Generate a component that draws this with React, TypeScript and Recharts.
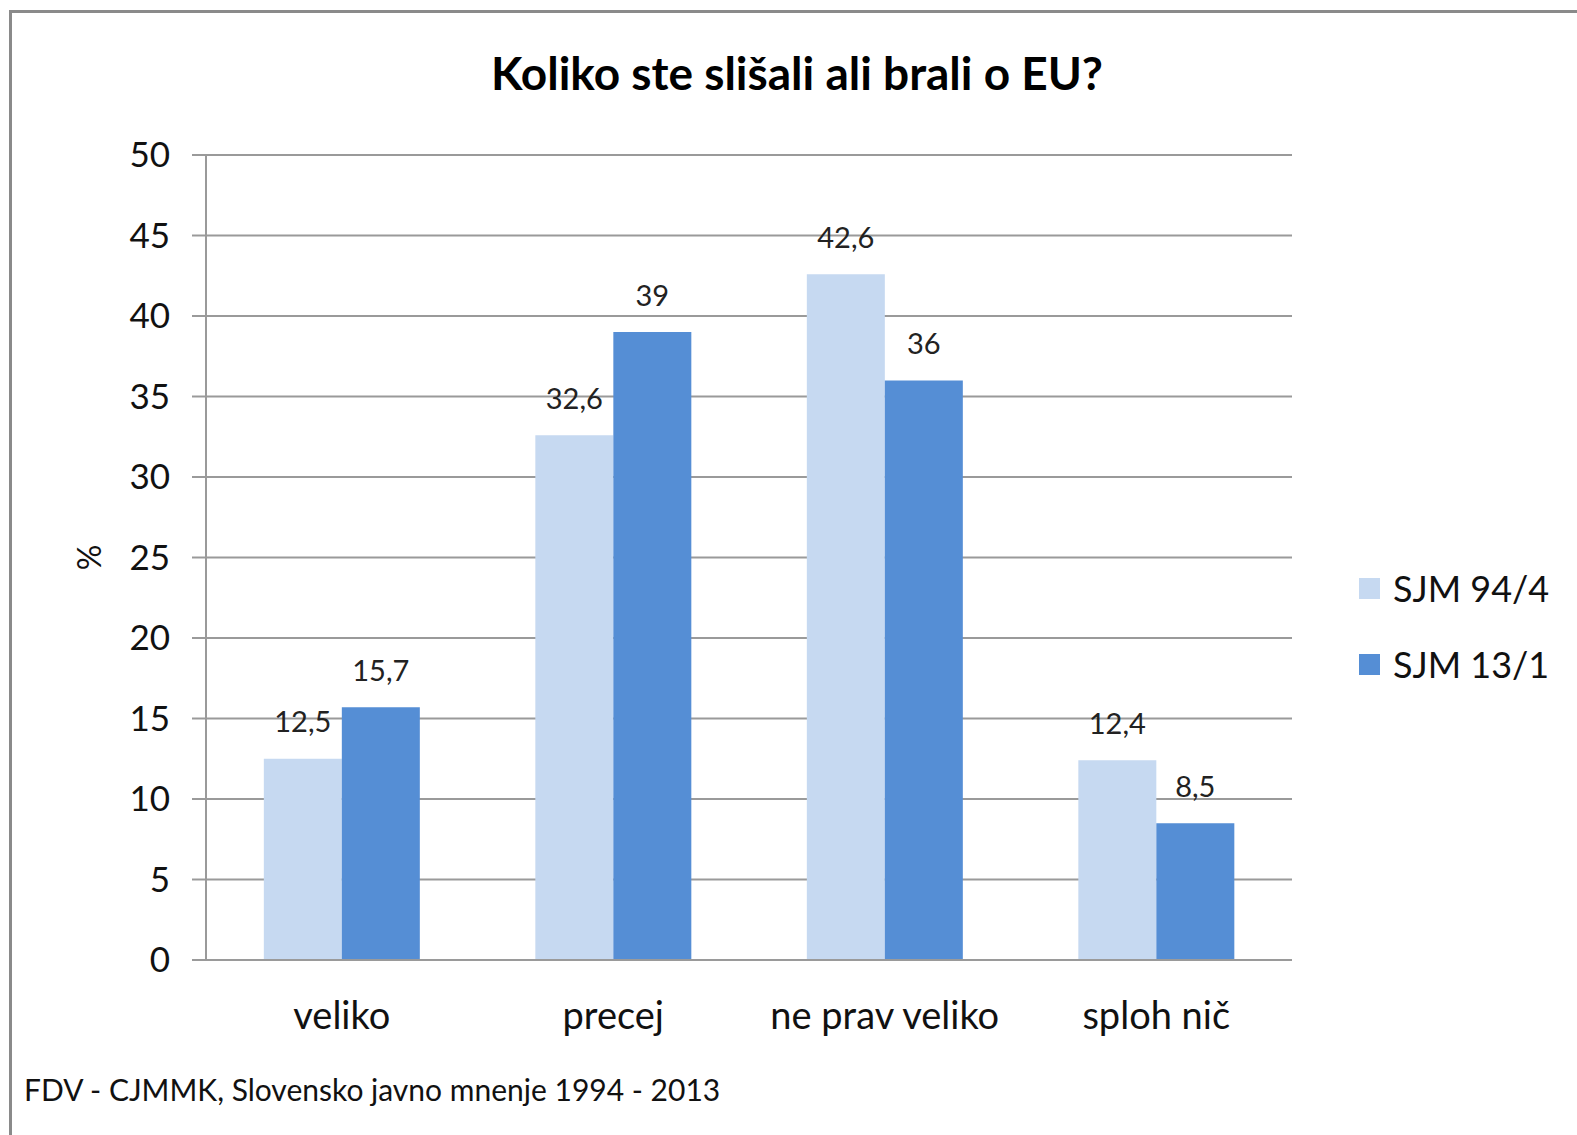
import React from 'react';
import { BarChart, Bar, XAxis, YAxis, CartesianGrid, Legend, LabelList, Label } from 'recharts';

const categories = ['veliko', 'precej', 'ne prav veliko', 'sploh nič'];
const sjm94 = [12.5, 32.6, 42.6, 12.4];
const sjm13 = [15.7, 39, 36, 8.5];
const yTicks = [0, 5, 10, 15, 20, 25, 30, 35, 40, 45, 50];
const seriesNames = ['SJM 94/4', 'SJM 13/1'];
const colors = ['#C6D9F1', '#558ED5'];

const data = categories.map((name, i) => ({ name, a: sjm94[i], b: sjm13[i] }));

const FONT = 'Lato, "Open Sans", sans-serif';
const fmt = (v: any) => String(v).replace('.', ',');

const ValueLabel = (props: any) => {
  const { x, y, width, value } = props;
  return (
    <text x={x + width / 2} y={y - 38} textAnchor="middle" dominantBaseline="central"
      fontSize={29} fill="#222" fontFamily={FONT}>
      {fmt(value)}
    </text>
  );
};

const CatTick = (props: any) => {
  const { x, y, payload } = props;
  return (
    <text x={x} y={y + 54} textAnchor="middle" dominantBaseline="central"
      fontSize={38} fill="#111" fontFamily={FONT}>
      {payload.value}
    </text>
  );
};

const LegendBox = (props: any) => {
  const items = props.payload || [];
  return (
    <div style={{ fontFamily: FONT }}>
      {items.map((it: any, i: number) => (
        <div key={i} style={{ display: 'flex', alignItems: 'center', height: 76 }}>
          <span style={{ width: 21, height: 21, background: it.color, display: 'inline-block', marginRight: 13 }} />
          <span style={{ fontSize: 36, color: '#111' }}>{it.value}</span>
        </div>
      ))}
    </div>
  );
};

const PercentLabel = (props: any) => {
  const { viewBox } = props;
  const cx = 88;
  const cy = viewBox.y + viewBox.height / 2;
  return (
    <text x={cx} y={cy} transform={`rotate(-90 ${cx} ${cy})`} textAnchor="middle"
      dominantBaseline="central" fontSize={32} fill="#111" fontFamily={FONT}>
      %
    </text>
  );
};

export default function App() {
  return (
    <div style={{ position: 'absolute', left: 0, top: 0, width: 1577, height: 1135, overflow: 'hidden', background: '#fff' }}>
      <div style={{ position: 'absolute', left: 9, top: 10, width: 1700, height: 1300, borderLeft: '3px solid #8a8a8a', borderTop: '3px solid #8a8a8a' }} />
      <div style={{ position: 'absolute', left: 0, width: 1594, top: 45, textAlign: 'center', fontFamily: FONT, fontWeight: 700, fontSize: 46, color: '#000' }}>
        Koliko ste slišali ali brali o EU?
      </div>
      <div style={{ position: 'absolute' }}>
        <BarChart width={1577} height={1135} data={data}
          margin={{ top: 155, right: 65, left: 106, bottom: 115 }}
          barCategoryGap="21.3%" barGap={0}>
          <CartesianGrid vertical={false} stroke="#9a9a9a" strokeWidth={2} />
          <XAxis dataKey="name" tickLine={false} axisLine={{ stroke: '#9a9a9a', strokeWidth: 2 }}
            height={60} tickSize={0} tickMargin={0} tick={<CatTick />} interval={0} />
          <YAxis domain={[0, 50]} ticks={yTicks} width={100} interval={0}
            axisLine={{ stroke: '#9a9a9a', strokeWidth: 2 }} tickLine={{ stroke: '#9a9a9a', strokeWidth: 2 }}
            tickSize={14} tickMargin={22}
            tick={{ fontSize: 35, fill: '#111', fontFamily: FONT }}>
            <Label content={<PercentLabel />} />
          </YAxis>
          <Legend layout="vertical" align="right" verticalAlign="middle" itemSorter="dataKey"
            content={<LegendBox />}
            wrapperStyle={{ left: 1359, top: 550, width: 220 }} />
          <Bar dataKey="a" name={seriesNames[0]} fill={colors[0]} isAnimationActive={false}>
            <LabelList dataKey="a" content={<ValueLabel />} />
          </Bar>
          <Bar dataKey="b" name={seriesNames[1]} fill={colors[1]} isAnimationActive={false}>
            <LabelList dataKey="b" content={<ValueLabel />} />
          </Bar>
        </BarChart>
      </div>
      <div style={{ position: 'absolute', left: 24, top: 1071, fontFamily: FONT, fontSize: 30, color: '#111', whiteSpace: 'nowrap' }}>
        FDV - CJMMK, Slovensko javno mnenje 1994 - 2013
      </div>
    </div>
  );
}
